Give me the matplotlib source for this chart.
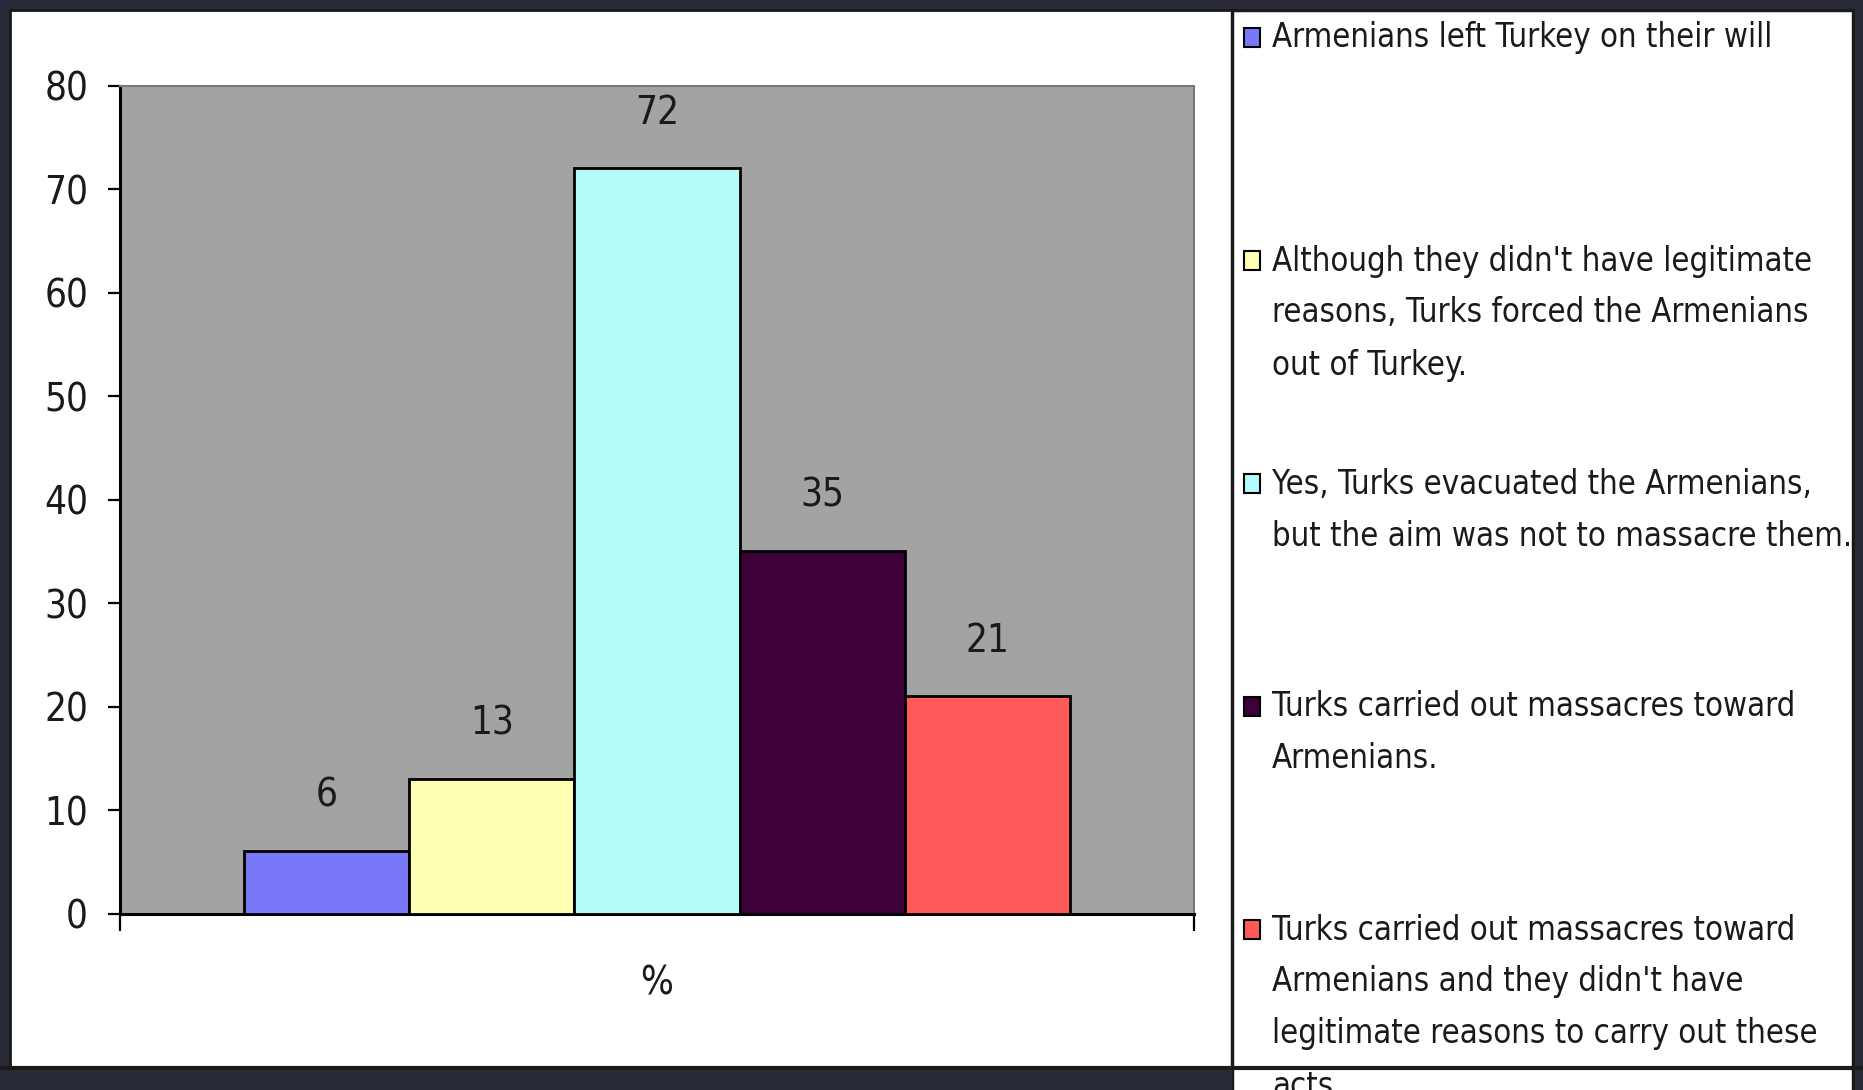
import matplotlib
matplotlib.use("Agg")
import matplotlib.pyplot as plt
from matplotlib import font_manager as fm
from matplotlib.patches import Rectangle
from matplotlib.lines import Line2D

# data
values = [6, 13, 72, 35, 21]
labels = [
    "Armenians left Turkey on their will",
    "Although they didn't have legitimate\nreasons, Turks forced the Armenians\nout of Turkey.",
    "Yes, Turks evacuated the Armenians,\nbut the aim was not to massacre them.",
    "Turks carried out massacres toward\nArmenians.",
    "Turks carried out massacres toward\nArmenians and they didn't have\nlegitimate reasons to carry out these\nacts.",
]
colors = ["#7878f8", "#ffffb4", "#b4fcfc", "#3d0038", "#ff5a5a"]
yticks = [0, 10, 20, 30, 40, 50, 60, 70, 80]
xlabel = "%"

# look for a narrow sans font, the original is Arial-like and condensed
def pick_font():
    wanted = ["Liberation Sans Narrow", "Arial Narrow", "Noto Sans Condensed",
              "DejaVu Sans Condensed", "Noto Sans SemiCondensed"]
    fonts = fm.fontManager.ttflist
    for name in wanted:
        for f in fonts:
            if f.name == name and f.style == "normal" and f.weight in (400, "normal", "regular"):
                return fm.FontProperties(fname=f.fname)
    for f in fonts:
        if f.stretch in ("condensed", "semi-condensed") and f.style == "normal" \
                and f.weight in (400, "normal", "regular") \
                and any(k in f.name for k in ("Sans", "Liberation", "Noto", "DejaVu")):
            return fm.FontProperties(fname=f.fname)
    return fm.FontProperties(family="Liberation Sans")

base_fp = pick_font()

W, H = 1863, 1090
def fx(x):
    return x / W
def fy(y):
    return 1 - y / H

fig = plt.figure(figsize=(W / 100, H / 100), dpi=100, facecolor="#2a2b38")
renderer = fig.canvas.get_renderer()

def fit_size(text, target_w, max_size):
    t = fig.text(0, 0, text, fontproperties=base_fp, size=max_size)
    w = t.get_window_extent(renderer).width
    t.remove()
    return min(max_size, max_size * target_w / w)

def fp(size):
    p = base_fp.copy()
    p.set_size(size)
    return p

num_size = fit_size("80", 44, 36)
leg_size = fit_size(labels[0], 500, 31)

# white panel behind the chart
fig.patches.append(Rectangle((fx(10), fy(1068)), fx(1232) - fx(10), fy(10) - fy(1068),
                             transform=fig.transFigure, facecolor="white",
                             edgecolor="#1a1a1a", lw=2, zorder=-2))
# legend box
fig.patches.append(Rectangle((fx(1232), fy(1100)), fx(1853) - fx(1232), fy(10) - fy(1100),
                             transform=fig.transFigure, facecolor="white",
                             edgecolor="#1a1a1a", lw=2.5, zorder=-2))

ax = fig.add_axes([fx(120), fy(913.6), fx(1194) - fx(120), fy(85.5) - fy(913.6)])
ax.set_facecolor("#a3a3a3")

x = list(range(len(values)))
ax.bar(x, values, width=1.0, color=colors, edgecolor="black", linewidth=2, zorder=3)
for xi, v in zip(x, values):
    ax.annotate(str(v), (xi, v), xytext=(0, 40), textcoords="offset points",
                ha="center", va="center", fontproperties=fp(num_size), color="#1a1a1a")

ax.set_xlim(-1.25, len(values) + 0.25)
ax.set_ylim(0, 80)
ax.set_yticks(yticks)
ax.set_yticklabels([str(t) for t in yticks], fontproperties=fp(num_size), color="#1a1a1a")
ax.tick_params(axis="y", direction="out", length=9, width=1.6, pad=14)
ax.set_xticks([-1.25, len(values) + 0.25])
ax.set_xticklabels(["", ""])
ax.tick_params(axis="x", direction="out", length=12, width=1.6)

for s in ["left", "bottom"]:
    ax.spines[s].set_color("black")
    ax.spines[s].set_linewidth(2.2)
for s in ["top", "right"]:
    ax.spines[s].set_color("#7a7a7a")
    ax.spines[s].set_linewidth(1.5)

ax.text(0.5, -0.085, xlabel, transform=ax.transAxes, ha="center", va="center",
        fontproperties=fp(num_size), color="#1a1a1a")

# legend, drawn by hand (Excel spaces entries evenly)
first_y = 38
slot = 223
line_h = 52
for i, (lab, c) in enumerate(zip(labels, colors)):
    y0 = first_y + i * slot
    fig.patches.append(Rectangle((fx(1244), fy(y0 + 9)), fx(16), 19 / H,
                                 transform=fig.transFigure, facecolor=c,
                                 edgecolor="black", lw=1.5, zorder=2))
    for k, line in enumerate(lab.split("\n")):
        fig.text(fx(1272), fy(y0 + k * line_h), line, ha="left", va="center",
                 fontproperties=fp(leg_size), color="#1a1a1a", zorder=2)

# dark strip at the bottom that cuts across the legend
fig.add_artist(Line2D([0, 1], [fy(1068), fy(1068)], transform=fig.transFigure,
                      color="#1a1a1a", lw=3, zorder=5))
fig.patches.append(Rectangle((0, 0), fx(1232), fy(1069), transform=fig.transFigure,
                             facecolor="#2a2b38", edgecolor="none", zorder=4))
fig.patches.append(Rectangle((fx(1855), 0), 1 - fx(1855), 1, transform=fig.transFigure,
                             facecolor="#2a2b38", edgecolor="none", zorder=4))

fig.savefig("out.png", dpi=100, facecolor=fig.get_facecolor())
